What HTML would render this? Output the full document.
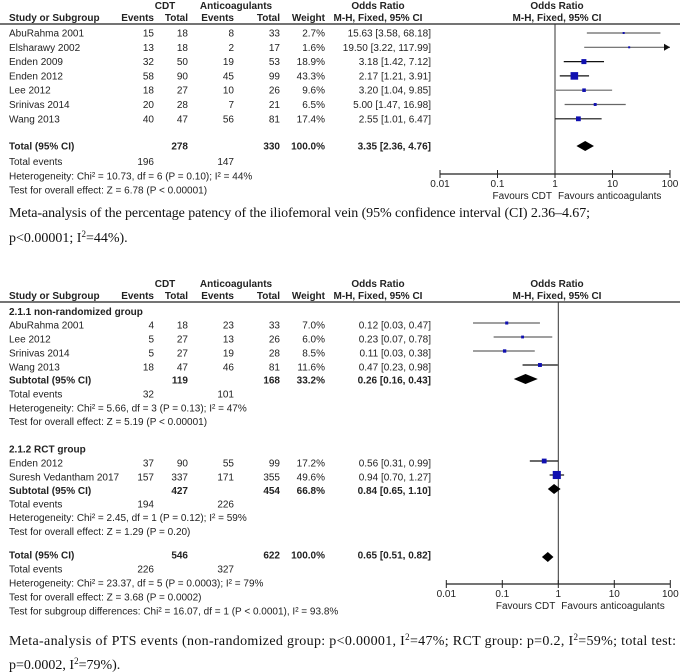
<!DOCTYPE html>
<html><head><meta charset="utf-8"><style>
body{margin:0;background:#fff;}
svg{display:block;font-family:"Liberation Sans",Arial,sans-serif;}
.t{font-size:10px;fill:#222;}
.b{font-weight:bold;}
.cap{font-family:"Liberation Serif",serif;font-size:14px;fill:#111;}
</style></head><body>
<svg id="s" width="680" height="672" viewBox="0 0 680 672"></svg>
<script>
// ---- Plot 1 data ----
const studies1 = ["AbuRahma 2001","Elsharawy 2002","Enden 2009","Enden 2012","Lee 2012","Srinivas 2014","Wang 2013"];
const cdtEvents1 = [15,13,32,58,18,20,40];
const cdtTotal1 = [18,18,50,90,27,28,47];
const antEvents1 = [8,2,19,45,10,7,56];
const antTotal1 = [33,17,53,99,26,21,81];
const weights1 = [2.7,1.6,18.9,43.3,9.6,6.5,17.4];
const or1 = [15.63,19.50,3.18,2.17,3.20,5.00,2.55];
const lo1 = [3.58,3.22,1.42,1.21,1.04,1.47,1.01];
const hi1 = [68.18,117.99,7.12,3.91,9.85,16.98,6.47];
const total1 = [3.35,2.36,4.76];
// ---- Plot 2 data ----
const studiesA = ["AbuRahma 2001","Lee 2012","Srinivas 2014","Wang 2013"];
const cdtEventsA = [4,5,5,18], cdtTotalA=[18,27,27,47], antEventsA=[23,13,19,46], antTotalA=[33,26,28,81];
const weightsA = [7.0,6.0,8.5,11.6];
const orA=[0.12,0.23,0.11,0.47], loA=[0.03,0.07,0.03,0.23], hiA=[0.47,0.78,0.38,0.98];
const subA=[0.26,0.16,0.43];
const studiesB = ["Enden 2012","Suresh Vedantham 2017"];
const cdtEventsB=[37,157], cdtTotalB=[90,337], antEventsB=[55,171], antTotalB=[99,355];
const weightsB=[17.2,49.6];
const orB=[0.56,0.94], loB=[0.31,0.70], hiB=[0.99,1.27];
const subB=[0.84,0.65,1.10];
const total2=[0.65,0.51,0.82];
const tickVals=[0.01,0.1,1,10,100];
const tickLabels=["0.01","0.1","1","10","100"];

const svg=document.getElementById('s');
const NS='http://www.w3.org/2000/svg';
function mk(tag,at,parent){const e=document.createElementNS(NS,tag);for(const k in at)e.setAttribute(k,at[k]);(parent||svg).appendChild(e);return e;}
function txt(x,y,s,anchor,cls,name){const e=mk('text',{x:x,y:y,'text-anchor':anchor||'start',class:cls||'t'});e.textContent=s;

return e;}
function f2(v){return v.toFixed(2);}
function ci(o,l,h){return f2(o)+" ["+f2(l)+", "+f2(h)+"]";}
function header(y0,name){
  txt(165,y0-15,"CDT","middle","t b",name+"-cdt-header");
  txt(236,y0-15,"Anticoagulants","middle","t b",name+"-anticoagulants-header");
  txt(378,y0-15,"Odds Ratio","middle","t b",name+"-or-header");
  txt(557,y0-15,"Odds Ratio","middle","t b",name+"-or-plot-header");
  txt(9,y0-3,"Study or Subgroup","start","t b",name+"-study-header");
  txt(154,y0-3,"Events","end","t b",name+"-cdt-events-header");
  txt(188,y0-3,"Total","end","t b",name+"-cdt-total-header");
  txt(234,y0-3,"Events","end","t b",name+"-ant-events-header");
  txt(280,y0-3,"Total","end","t b",name+"-ant-total-header");
  txt(325,y0-3,"Weight","end","t b",name+"-weight-header");
  txt(378,y0-3,"M-H, Fixed, 95% CI","middle","t b",name+"-method-header");
  txt(557,y0-3,"M-H, Fixed, 95% CI","middle","t b",name+"-method-plot-header");
  const l=mk('line',{x1:0,y1:y0,x2:680,y2:y0,stroke:'#222','stroke-width':1.2});
  
  
}
function row(y,vals,bold,name){
  const xs=[154,188,234,280,325,431];
  txt(9,y,vals[0],'start',bold?'t b':'t',name+'-name');
  for(let i=1;i<vals.length;i++){ if(vals[i]!=="") txt(xs[i-1],y,vals[i],'end',bold?'t b':'t',name+'-col'+i);}
}
function axis(cx,dec,yTop,yAx,name){
  const X=v=>cx+dec*Math.log10(v);
  const v=mk('line',{x1:cx,y1:yTop,x2:cx,y2:yAx,stroke:'#333','stroke-width':1});
  
  
  const a=mk('line',{x1:X(tickVals[0]),y1:yAx,x2:X(tickVals[tickVals.length-1]),y2:yAx,stroke:'#222','stroke-width':1.2});
  
  
  tickVals.forEach((t,i)=>{const tk=mk('line',{x1:X(t),y1:yAx-4,x2:X(t),y2:yAx+4,stroke:'#222'});
    
    
    txt(X(t),yAx+13,tickLabels[i],'middle','t',name+'-tick-label');});
  txt(cx-3,yAx+25,"Favours CDT",'end','t',name+'-favours-cdt');
  txt(cx+3,yAx+25,"Favours anticoagulants",'start','t',name+'-favours-anticoagulants');
  return X;
}
function mark(X,y,o,l,h,w,name){
  const xmax=X(100),xmin=X(0.01);
  const x1=Math.max(xmin,X(l)),x2=Math.min(xmax,X(h));
  const col=w<10?'#666':'#111';
  const ln=mk('line',{x1:x1,y1:y,x2:x2,y2:y,stroke:col,'stroke-width':1.2});
  
  
  if(X(h)>xmax){const ar=mk('polygon',{points:`${xmax},${y} ${xmax-6},${y-3.5} ${xmax-6},${y+3.5}`,fill:'#111'});
    
    }
  const s=Math.max(2,Math.sqrt(w)*1.15);
  const r=mk('rect',{x:X(o)-s/2,y:y-s/2,width:s,height:s,fill:'#1010b0'});
  
  
}
function diamond(X,y,v,name){
  const d=mk('polygon',{points:`${X(v[1])},${y} ${X(v[0])},${y-5} ${X(v[2])},${y} ${X(v[0])},${y+5}`,fill:'#000'});
  
  
}

// ===== Plot 1 =====
header(24,'plot1');
const X1=axis(555,57.5,24,174,'plot1');
studies1.forEach((s,i)=>{const y=33+i*14.3;
  row(y+3.5,[s,cdtEvents1[i],cdtTotal1[i],antEvents1[i],antTotal1[i],weights1[i].toFixed(1)+"%",ci(or1[i],lo1[i],hi1[i])],false,'plot1-study-'+i);
  mark(X1,y,or1[i],lo1[i],hi1[i],weights1[i],'plot1-study-'+i);});
row(149.5,["Total (95% CI)","",cdtTotal1.reduce((a,b)=>a+b),"",antTotal1.reduce((a,b)=>a+b),"100.0%",ci(total1[0],total1[1],total1[2])],true,'plot1-total');
diamond(X1,146,total1,'plot1-total-diamond');
row(165,["Total events",cdtEvents1.reduce((a,b)=>a+b),"",antEvents1.reduce((a,b)=>a+b)],false,'plot1-total-events');
txt(9,179.5,"Heterogeneity: Chi² = 10.73, df = 6 (P = 0.10); I² = 44%",'start','t','plot1-heterogeneity');
txt(9,193.5,"Test for overall effect: Z = 6.78 (P < 0.00001)",'start','t','plot1-overall-effect');
const c1=txt(9,217,"Meta-analysis of the percentage patency of the iliofemoral vein (95% confidence interval (CI) 2.36–4.67;",'start','cap','caption-1-line-1');
c1.setAttribute('textLength','581');c1.setAttribute('lengthAdjust','spacing');
const c2=txt(9,242,"p<0.00001; I",'start','cap','caption-1-line-2');
const ts=mk('tspan',{dy:-5,'font-size':9},c2);ts.textContent="2";
const ts2=mk('tspan',{dy:5},c2);ts2.textContent="=44%).";

// ===== Plot 2 =====
header(302,'plot2');
const X2=axis(558.3,56,302,584,'plot2');
txt(9,315,"2.1.1 non-randomized group",'start','t b','plot2-group-a-title');
studiesA.forEach((s,i)=>{const y=325+i*14;
  row(y+3.5,[s,cdtEventsA[i],cdtTotalA[i],antEventsA[i],antTotalA[i],weightsA[i].toFixed(1)+"%",ci(orA[i],loA[i],hiA[i])],false,'plot2-a-study-'+i);
  mark(X2,y-2,orA[i],loA[i],hiA[i],weightsA[i],'plot2-a-study-'+i);});
row(383.5,["Subtotal (95% CI)","",cdtTotalA.reduce((a,b)=>a+b),"",antTotalA.reduce((a,b)=>a+b),"33.2%",ci(subA[0],subA[1],subA[2])],true,'plot2-a-subtotal');
diamond(X2,379,subA,'plot2-a-subtotal-diamond');
row(397.5,["Total events",cdtEventsA.reduce((a,b)=>a+b),"",antEventsA.reduce((a,b)=>a+b)],false,'plot2-a-total-events');
txt(9,411.5,"Heterogeneity: Chi² = 5.66, df = 3 (P = 0.13); I² = 47%",'start','t','plot2-a-heterogeneity');
txt(9,425,"Test for overall effect: Z = 5.19 (P < 0.00001)",'start','t','plot2-a-overall-effect');
txt(9,452.5,"2.1.2 RCT group",'start','t b','plot2-group-b-title');
studiesB.forEach((s,i)=>{const y=463+i*14;
  row(y+3.5,[s,cdtEventsB[i],cdtTotalB[i],antEventsB[i],antTotalB[i],weightsB[i].toFixed(1)+"%",ci(orB[i],loB[i],hiB[i])],false,'plot2-b-study-'+i);
  mark(X2,y-2,orB[i],loB[i],hiB[i],weightsB[i],'plot2-b-study-'+i);});
row(494,["Subtotal (95% CI)","",cdtTotalB.reduce((a,b)=>a+b),"",antTotalB.reduce((a,b)=>a+b),"66.8%",ci(subB[0],subB[1],subB[2])],true,'plot2-b-subtotal');
diamond(X2,489,subB,'plot2-b-subtotal-diamond');
row(507.5,["Total events",cdtEventsB.reduce((a,b)=>a+b),"",antEventsB.reduce((a,b)=>a+b)],false,'plot2-b-total-events');
txt(9,521,"Heterogeneity: Chi² = 2.45, df = 1 (P = 0.12); I² = 59%",'start','t','plot2-b-heterogeneity');
txt(9,535,"Test for overall effect: Z = 1.29 (P = 0.20)",'start','t','plot2-b-overall-effect');
row(558.5,["Total (95% CI)","",546,"",622,"100.0%",ci(total2[0],total2[1],total2[2])],true,'plot2-total');
diamond(X2,557,total2,'plot2-total-diamond');
row(572.5,["Total events",226,"",327],false,'plot2-total-events');
txt(9,586.5,"Heterogeneity: Chi² = 23.37, df = 5 (P = 0.0003); I² = 79%",'start','t','plot2-heterogeneity');
txt(9,600.5,"Test for overall effect: Z = 3.68 (P = 0.0002)",'start','t','plot2-overall-effect');
const sg=txt(9,614.5,"Test for subgroup differences: Chi² = 16.07, df = 1 (P < 0.0001), I² = 93.8%",'start','t','plot2-subgroup-differences');
sg.setAttribute('font-size','9');
const d1=txt(9,645,"Meta-analysis of PTS events (non-randomized group: p<0.00001, I",'start','cap','caption-2-line-1');
let a=mk('tspan',{dy:-5,'font-size':9},d1);a.textContent="2";
a=mk('tspan',{dy:5},d1);a.textContent="=47%; RCT group: p=0.2, I";
a=mk('tspan',{dy:-5,'font-size':9},d1);a.textContent="2";
a=mk('tspan',{dy:5},d1);a.textContent="=59%; total test:";
d1.setAttribute('textLength','667');d1.setAttribute('lengthAdjust','spacing');
const d2=txt(9,669,"p=0.0002, I",'start','cap','caption-2-line-2');
a=mk('tspan',{dy:-5,'font-size':9},d2);a.textContent="2";
a=mk('tspan',{dy:5},d2);a.textContent="=79%).";
</script>
</body></html>
